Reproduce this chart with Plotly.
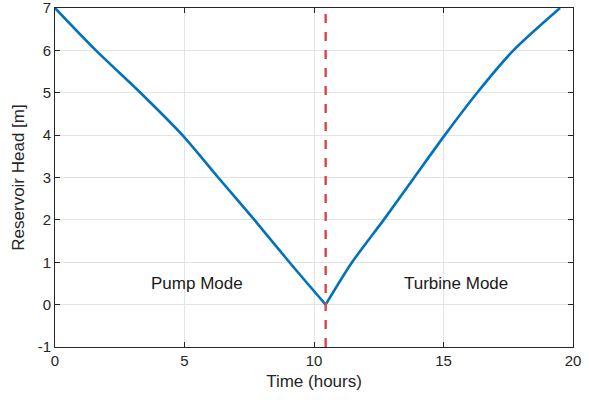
import plotly.graph_objects as go

# Data
time_pump = [0, 1.58, 3.3, 4.92, 6.3, 7.7, 9.05, 10.45]
head_pump = [7, 6, 5, 4, 3, 2, 1, 0]
time_turbine = [10.45, 11.47, 12.69, 13.87, 15.05, 16.3, 17.7, 19.5]
head_turbine = [0, 1, 2, 3, 4, 5, 6, 7]
switch_time = 10.45
x_ticks = [0, 5, 10, 15, 20]
y_ticks = [-1, 0, 1, 2, 3, 4, 5, 6, 7]
y_tick_text = ["-1", "0", "1", "2", "3", "4", "5", "6", "7"]
labels = ["Pump Mode", "Turbine Mode"]
label_x = [5.5, 15.5]
label_y = [0.5, 0.5]

FONT = "Liberation Sans, Arial, sans-serif"

fig = go.Figure()
for tx, hy in ((time_pump, head_pump), (time_turbine, head_turbine)):
    fig.add_trace(go.Scatter(x=tx, y=hy, mode="lines",
                             line=dict(color="#0072BD", width=2.6, shape="spline", smoothing=0.8),
                             showlegend=False, cliponaxis=False))
fig.add_trace(go.Scatter(x=[switch_time, switch_time], y=[y_ticks[0], y_ticks[-1]], mode="lines",
                         line=dict(color="#D9434B", width=2.4, dash="dash"), showlegend=False))

for t, xx, yy in zip(labels, label_x, label_y):
    fig.add_annotation(x=xx, y=yy, text=t, showarrow=False,
                       font=dict(size=17, color="#1a1a1a", family=FONT))

axis_common = dict(showline=True, linecolor="#262626", linewidth=1, mirror="ticks",
                   ticks="inside", ticklen=5, tickcolor="#262626",
                   showgrid=True, gridcolor="#e3e3e3", gridwidth=1, zeroline=False,
                   ticklabeloverflow="allow", automargin=False,
                   tickfont=dict(size=15, color="#262626", family=FONT))

fig.update_xaxes(range=[0, 20], tickvals=x_ticks,
                 title=dict(text="Time (hours)", standoff=7,
                            font=dict(size=17, color="#262626", family=FONT)),
                 **axis_common)
fig.update_yaxes(range=[-1, 7], tickvals=y_ticks, ticktext=y_tick_text,
                 title=dict(text="Reservoir Head [m]", standoff=8,
                            font=dict(size=17, color="#262626", family=FONT)),
                 **axis_common)

fig.update_layout(width=589, height=400, margin=dict(l=55, r=16, t=8, b=53),
                  plot_bgcolor="white", paper_bgcolor="white")

fig.write_html("out.html")
